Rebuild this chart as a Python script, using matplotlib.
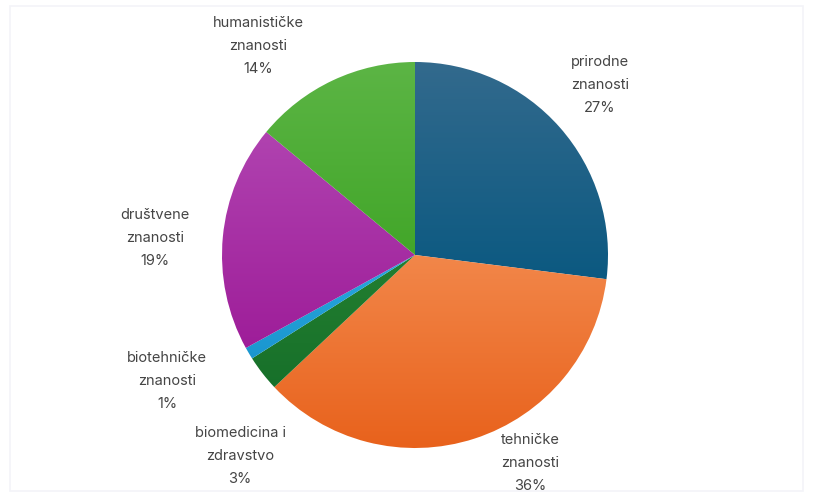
import numpy as np
import matplotlib
matplotlib.use("Agg")
import matplotlib.pyplot as plt
from matplotlib.colors import LinearSegmentedColormap
from matplotlib.patches import Rectangle

# Share of projects by scientific field (clockwise from 12 o'clock)
fields = ["prirodne\nznanosti", "tehničke\nznanosti", "biomedicina i\nzdravstvo",
          "biotehničke\nznanosti", "društvene\nznanosti", "humanističke\nznanosti"]
shares = [27, 36, 3, 1, 19, 14]

# top / bottom colours of each slice's vertical gradient
top_colors = ["#336a8d", "#f2874a", "#237f30", "#2aa8de", "#b043b0", "#5cb545"]
bottom_colors = ["#0b5981", "#e8611b", "#17702a", "#1a96cf", "#9e1d99", "#42a629"]

# label anchor points (pixel coordinates, y measured from the top)
label_pos = [(600, 85), (530, 463), (240, 456), (167, 381), (155, 238), (258, 46)]

W, H = 813, 497
fig = plt.figure(figsize=(W / 100, H / 100), dpi=100)
ax = fig.add_axes([0, 0, 1, 1])

cx, cy, r = 415, H - 255, 193
wedges, _ = ax.pie(shares, startangle=90, counterclock=False,
                   center=(cx, cy), radius=r,
                   wedgeprops=dict(edgecolor="none", linewidth=0))

for w, c0, c1 in zip(wedges, top_colors, bottom_colors):
    verts = w.get_path().vertices
    y0, y1 = verts[:, 1].min(), verts[:, 1].max()
    x0, x1 = verts[:, 0].min(), verts[:, 0].max()
    cmap = LinearSegmentedColormap.from_list("g", [c1, c0])
    grad = np.linspace(0, 1, 256).reshape(-1, 1)
    im = ax.imshow(grad, cmap=cmap, origin="lower", aspect="auto",
                   extent=(x0 - 1, x1 + 1, y0 - 1, y1 + 1), interpolation="bilinear",
                   zorder=2)
    im.set_clip_path(w)
    w.set_facecolor("none")

for text, share, (px, py) in zip(fields, shares, label_pos):
    ax.text(px, H - py, f"{text}\n{share}%", ha="center", va="center",
            fontsize=10.5, color="#454545", family="Inter", linespacing=1.85,
            zorder=3)

# faint outer frame
ax.add_patch(Rectangle((10, 6), W - 20, H - 12, facecolor="none",
                       edgecolor="#f3f4f8", linewidth=1.2, zorder=1))

ax.set_xlim(0, W)
ax.set_ylim(0, H)
ax.set_aspect("auto")
ax.axis("off")

fig.savefig("out.png", dpi=100, facecolor="white")
